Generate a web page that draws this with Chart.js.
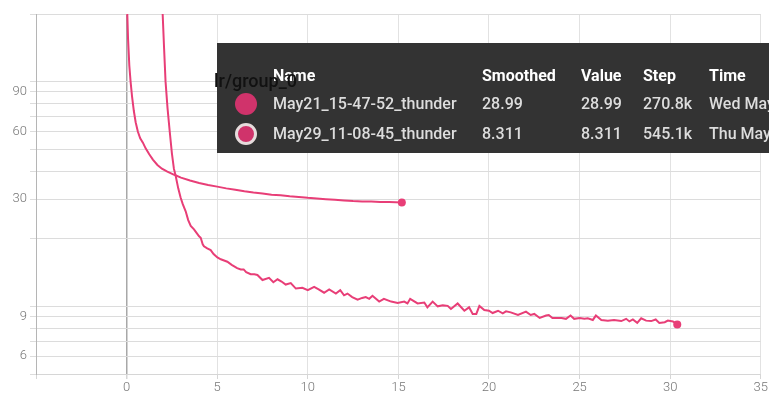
<!DOCTYPE html>
<html>
<head>
<meta charset="utf-8">
<script src="https://cdn.jsdelivr.net/npm/chart.js@4/dist/chart.umd.min.js"></script>
<style>
  html, body { margin: 0; padding: 0; background: #fff; }
  #wrap { position: relative; width: 769px; height: 395px; overflow: hidden; }
  #chart { position: absolute; left: 0; top: 0; }
  #tip { position: absolute; left: 217px; top: 43px; width: 600px; height: 110px; background: #333; font-family: Roboto, sans-serif; }
  #tip span { position: absolute; white-space: nowrap; line-height: 20px; font-size: 16px; }
  #tip .hd { color: #fff; font-weight: 700; }
  #tip .cell { color: #ddd; font-weight: 500; }
  #tip .dot { width: 22px; height: 22px; border-radius: 50%; background: #d0336b; box-sizing: border-box; }
  #tip .dot.sel { border: 3px solid #e6dcdc; }
  #group { position: absolute; left: 214px; top: 70px; font: 500 18px Roboto, sans-serif; color: #111; white-space: nowrap; }
</style>
</head>
<body>
<div id="wrap">
  <canvas id="chart" width="769" height="395"></canvas>
  <div id="tip"></div>
</div>
<script>
// run 1: hours since start vs loss
var run1Hours = [0.01, 0.04, 0.08, 0.15, 0.22, 0.3, 0.4, 0.5, 0.62, 0.75, 0.9, 1.05, 1.25, 1.45, 1.7, 1.95, 2.25, 2.6, 3.0, 3.5,
  4.0, 4.5, 5.0, 5.5, 6.0, 6.5, 7.0, 7.5, 8.0, 8.5, 9.0, 9.5, 10.0, 10.5, 11.0, 11.5, 12.0, 12.5, 13.0, 13.5, 14.0, 14.5, 15.19];
var run1Values = [260, 198, 155, 118, 100, 86, 74, 66, 60, 56, 53.5, 50.5, 47.5, 45, 42.6, 41, 39.8, 38.6, 37.4, 36.3,
  35.4, 34.7, 34.1, 33.5, 33.0, 32.5, 32.1, 31.8, 31.4, 31.2, 30.9, 30.7, 30.4, 30.2, 30.0, 29.8, 29.6, 29.4, 29.3, 29.3, 29.1, 29.1, 28.99];

// run 2
var run2Hours = [1.93, 1.99, 2.07, 2.15, 2.26, 2.38, 2.5, 2.61, 2.71, 2.85, 2.98, 3.1, 3.26, 3.4, 3.54, 3.72, 3.85, 4.0, 4.09, 4.2,
  4.27, 4.45, 4.64, 4.8, 5.01, 5.2, 5.38, 5.56, 5.8, 6.1, 6.3, 6.46, 6.6, 6.85, 7.05, 7.22, 7.5, 7.86, 8.1, 8.33,
  8.55, 8.78, 9.06, 9.34, 9.7, 10.0, 10.35, 10.6, 10.9, 11.18, 11.55, 11.79, 12.0, 12.19, 12.45, 12.75, 13.0, 13.2, 13.39, 13.57,
  13.94, 14.2, 14.6, 14.96, 15.32, 15.5, 15.65, 16.06, 16.43, 16.6, 16.89, 17.17, 17.45, 17.72, 17.9, 18.27, 18.64, 18.9, 19.1, 19.3,
  19.47, 19.74, 20.0, 20.2, 20.5, 20.76, 20.94, 21.2, 21.6, 22.04, 22.3, 22.5, 22.8, 23.15, 23.3, 23.5, 24.0, 24.25, 24.5, 24.7,
  25.0, 25.27, 25.45, 25.73, 25.9, 26.2, 26.56, 26.9, 27.3, 27.57, 27.75, 27.94, 28.18, 28.4, 28.67, 28.95, 29.2, 29.4, 29.7, 29.87,
  30.15, 30.39];
var run2Values = [260, 200, 140, 100, 76, 60, 48, 41, 38, 33.5, 30.5, 28.5, 26.5, 24.2, 22.8, 22.0, 21.3, 20.5, 20.2, 18.9,
  18.5, 18.1, 17.8, 17.1, 16.5, 16.2, 16.0, 15.8, 15.3, 14.8, 14.6, 14.6, 14.2, 13.9, 13.9, 13.8, 13.1, 13.4, 12.8, 13.2,
  12.9, 12.5, 12.7, 12.0, 12.1, 11.8, 12.2, 11.9, 11.5, 11.9, 11.4, 11.8, 11.2, 11.4, 11.0, 10.7, 10.9, 11.0, 10.8, 11.15,
  10.5, 10.8, 10.5, 10.34, 10.5, 10.3, 10.8, 10.3, 10.4, 9.9, 10.5, 10.0, 10.1, 10.05, 9.73, 10.3, 9.56, 9.9, 9.25, 9.25,
  10.05, 9.63, 9.56, 9.34, 9.56, 9.31, 9.5, 9.4, 9.15, 9.47, 9.15, 9.25, 8.88, 9.1, 9.15, 8.88, 8.88, 8.8, 9.1, 8.8,
  8.88, 8.8, 8.85, 8.7, 9.1, 8.7, 8.64, 8.7, 8.6, 8.8, 8.57, 8.74, 8.44, 8.85, 8.64, 8.6, 8.74, 8.44, 8.5, 8.64,
  8.57, 8.311];

var runNames = ['May21_15-47-52_thunder', 'May29_11-08-45_thunder'];
var runSteps = ['270.8k', '545.1k'];
var runTimes = ['Wed May 22 2019', 'Thu May 30 2019'];

var yGridValues = [5, 6, 7, 8, 9, 10, 20, 30, 40, 50, 60, 70, 80, 90, 100, 200];
var yTickLabels = [6, 9, 30, 60, 90];

var lineColor = '#e83e77';

function toPoints(xs, ys) {
  var pts = [];
  for (var i = 0; i < xs.length; i++) pts.push({x: xs[i], y: ys[i]});
  return pts;
}

function lastDot(ctx) {
  return ctx.dataIndex === ctx.dataset.data.length - 1 ? 4 : 0;
}

var tickFont = {family: 'Roboto', size: 13, weight: '300'};

var mychart = document.getElementById('chart').getContext('2d');
var chart = new Chart(mychart, {
  type: 'line',
  data: {
    datasets: [
      {label: runNames[0], data: toPoints(run1Hours, run1Values)},
      {label: runNames[1], data: toPoints(run2Hours, run2Values)}
    ]
  },
  options: {
    responsive: false,
    animation: false,
    layout: {padding: {top: 14, right: 8, left: 0, bottom: 0}},
    elements: {
      line: {borderColor: lineColor, borderWidth: 2, tension: 0},
      point: {radius: lastDot, backgroundColor: lineColor, borderWidth: 0, hoverRadius: 0}
    },
    plugins: {legend: {display: false}, tooltip: {enabled: false}},
    scales: {
      x: {
        type: 'linear', min: -5, max: 35,
        afterFit: function(s) { s.height = 21; },
        ticks: {
          stepSize: 5, color: '#777', font: tickFont, padding: 1, maxRotation: 0,
          callback: function(v) { return v === -5 ? '' : String(v); }
        },
        grid: {
          color: function(c) { return c.tick && c.tick.value === 0 ? '#a8a8a8' : '#e2e2e2'; },
          lineWidth: function(c) { return c.tick && c.tick.value === 0 ? 1.5 : 1; },
          tickLength: 5, tickColor: '#d6d6d6'
        },
        border: {color: '#d6d6d6'}
      },
      y: {
        type: 'logarithmic', min: 5, max: 200,
        afterFit: function(s) { s.width = 36; },
        afterBuildTicks: function(s) {
          s.ticks = yGridValues.map(function(v) { return {value: v}; });
        },
        ticks: {
          color: '#777', font: tickFont, padding: 3, autoSkip: false,
          callback: function(v) { return yTickLabels.indexOf(v) >= 0 ? String(v) : ''; }
        },
        grid: {color: '#dcdcdc', tickLength: 6, tickColor: '#dcdcdc'},
        border: {color: '#b5b5b5'}
      }
    }
  }
});

// hover card with the last value of each run
var tip = document.getElementById('tip');
var group = document.createElement('span');
group.id = 'group';
group.textContent = 'lr/group_0';
document.getElementById('wrap').insertBefore(group, tip.nextSibling);

var cols = [56, 265, 364, 426, 492];
var heads = ['Name', 'Smoothed', 'Value', 'Step', 'Time'];
var html = '';
heads.forEach(function(h, i) {
  html += '<span class="hd" style="left:' + cols[i] + 'px;top:23px">' + h + '</span>';
});
var lastVals = [run1Values[run1Values.length - 1], run2Values[run2Values.length - 1]];
for (var r = 0; r < 2; r++) {
  var rowTop = 51 + r * 30;
  var shown = lastVals[r].toPrecision(4);
  html += '<span class="dot' + (r === 1 ? ' sel' : '') + '" style="left:18px;top:' + (rowTop - 1) + 'px"></span>';
  [runNames[r], shown, shown, runSteps[r], runTimes[r]].forEach(function(t, i) {
    html += '<span class="cell" style="left:' + cols[i] + 'px;top:' + rowTop + 'px">' + t + '</span>';
  });
}
tip.innerHTML = html;
// group label sits behind the header text
tip.style.zIndex = 1;
group.style.zIndex = 2;
</script>
</body>
</html>
